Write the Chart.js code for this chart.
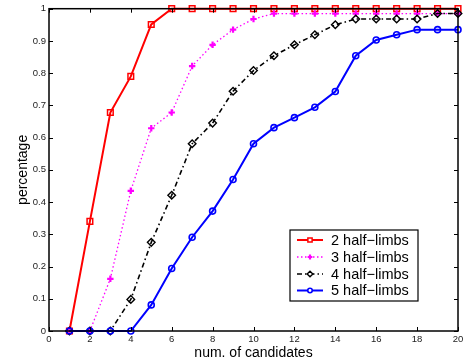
<!DOCTYPE html>
<html>
<head>
<meta charset="utf-8">
<script src="https://cdn.jsdelivr.net/npm/chart.js@4"></script>
<style>
  html, body { margin: 0; padding: 0; background: #fff; }
  #wrap { width: 472px; height: 364px; }
</style>
</head>
<body>
<div id="wrap"><canvas id="canvas" width="472" height="364"></canvas></div>
<script>
// number of candidates on the x axis
var candidates = [1,2,3,4,5,6,7,8,9,10,11,12,13,14,15,16,17,18,19,20];

var seriesNames = ['2 half\u2212limbs', '3 half\u2212limbs', '4 half\u2212limbs', '5 half\u2212limbs'];

var limbs2 = [0, 0.34, 0.678, 0.79, 0.951, 1, 1, 1, 1, 1, 1, 1, 1, 1, 1, 1, 1, 1, 1, 1];
var limbs3 = [0, 0, 0.162, 0.435, 0.629, 0.678, 0.822, 0.888, 0.935, 0.968, 0.985, 0.985, 0.985, 0.985, 0.985, 0.985, 0.985, 0.985, 0.985, 0.985];
var limbs4 = [0, 0, 0, 0.098, 0.275, 0.421, 0.581, 0.645, 0.744, 0.808, 0.854, 0.888, 0.919, 0.950, 0.968, 0.968, 0.968, 0.968, 0.985, 0.985];
var limbs5 = [0, 0, 0, 0, 0.081, 0.194, 0.291, 0.372, 0.470, 0.581, 0.631, 0.662, 0.694, 0.743, 0.854, 0.903, 0.919, 0.935, 0.935, 0.935];

var xTicks = [0,2,4,6,8,10,12,14,16,18,20];
var yTicks = [0,0.1,0.2,0.3,0.4,0.5,0.6,0.7,0.8,0.9,1];

function pts(vals) {
    return vals.map(function(v, i){ return {x: candidates[i], y: v}; });
}

var FONT = "'Liberation Sans', Arial, sans-serif";
var NONE = 'rgba(0,0,0,0)';

// matlab style box with inward ticks on all four sides
var boxPlugin = {
    id: 'box',
    afterDraw: function(chart) {
        var ctx = chart.ctx, a = chart.chartArea;
        var xs = chart.scales.x, ys = chart.scales.y;
        var t = 4;
        ctx.save();
        ctx.strokeStyle = '#000';
        ctx.lineWidth = 1.5;
        ctx.strokeRect(a.left, a.top, a.right - a.left, a.bottom - a.top);
        ctx.lineWidth = 1;
        ctx.beginPath();
        xTicks.forEach(function(v){
            var px = Math.round(xs.getPixelForValue(v)) + 0.5;
            ctx.moveTo(px, a.bottom); ctx.lineTo(px, a.bottom - t);
            ctx.moveTo(px, a.top); ctx.lineTo(px, a.top + t);
        });
        yTicks.forEach(function(v){
            var py = Math.round(ys.getPixelForValue(v)) + 0.5;
            ctx.moveTo(a.left, py); ctx.lineTo(a.left + t, py);
            ctx.moveTo(a.right, py); ctx.lineTo(a.right - t, py);
        });
        ctx.stroke();

        // legend inside the plot
        var lx = 290, ly = 230, lw = 128, lh = 71;
        ctx.fillStyle = '#fff';
        ctx.fillRect(lx, ly, lw, lh);
        ctx.lineWidth = 1.2;
        ctx.strokeStyle = '#000';
        ctx.strokeRect(lx, ly, lw, lh);
        var rows = [240, 257, 274, 290.5];
        ctx.font = '14.5px ' + FONT;
        ctx.textBaseline = 'middle';
        chart.data.datasets.forEach(function(ds, i){
            var y = rows[i];
            ctx.save();
            ctx.strokeStyle = ds.borderColor;
            ctx.fillStyle = '#fff';
            ctx.lineWidth = ds.borderWidth;
            ctx.setLineDash(ds.borderDash || []);
            ctx.beginPath();
            ctx.moveTo(297, y); ctx.lineTo(323, y);
            ctx.stroke();
            ctx.setLineDash([]);
            ctx.lineWidth = ds.pointBorderWidth;
            Chart.helpers.drawPoint(ctx, {
                pointStyle: ds.pointStyle,
                radius: ds.pointRadius * 0.75,
                rotation: 0,
                borderWidth: ds.pointBorderWidth
            }, 310, y);
            ctx.restore();
            ctx.fillStyle = '#000';
            ctx.fillText(ds.label, 331, y + 0.5);
        });
        ctx.restore();
    }
};

const ctx = document.getElementById('canvas').getContext('2d');
const myChart = new Chart(ctx, {
    type: 'line',
    data: {
        datasets: [{
            label: seriesNames[0],
            data: pts(limbs2),
            borderColor: '#ff0000',
            backgroundColor: NONE,
            pointBackgroundColor: NONE,
            borderWidth: 2,
            pointStyle: 'rect',
            pointRadius: 4,
            pointBorderWidth: 1.5,
            order: 3
        },{
            label: seriesNames[1],
            data: pts(limbs3),
            borderColor: '#ff00ff',
            backgroundColor: NONE,
            pointBackgroundColor: NONE,
            borderWidth: 1.3,
            borderDash: [1.5, 2.5],
            pointStyle: 'cross',
            pointRadius: 3.2,
            pointBorderWidth: 2.2,
            order: 2
        },{
            label: seriesNames[2],
            data: pts(limbs4),
            borderColor: '#000000',
            backgroundColor: NONE,
            pointBackgroundColor: NONE,
            borderWidth: 1.6,
            borderDash: [5, 3, 1.5, 3],
            pointStyle: 'rectRot',
            pointRadius: 3.8,
            pointBorderWidth: 1.4,
            order: 1
        },{
            label: seriesNames[3],
            data: pts(limbs5),
            borderColor: '#0000ff',
            backgroundColor: NONE,
            pointBackgroundColor: NONE,
            borderWidth: 2,
            pointStyle: 'circle',
            pointRadius: 3,
            pointBorderWidth: 1.6,
            order: 0
        }]
    },
    options: {
        responsive: false,
        animation: false,
        clip: false,
        elements: { line: { tension: 0 } },
        layout: { padding: { top: 8, right: 14, left: 0, bottom: 0 } },
        plugins: { legend: { display: false }, tooltip: { enabled: false } },
        scales: {
            x: {
                type: 'linear',
                min: 0, max: 20,
                afterFit: function(s){ s.height = 33; },
                afterBuildTicks: function(s){ s.ticks = xTicks.map(function(v){ return {value: v}; }); },
                grid: { display: false, drawTicks: false, tickLength: 0 },
                border: { display: false },
                ticks: { padding: 3, maxRotation: 0, autoSkip: false, color: '#222', font: { family: FONT, size: 9.5 } },
                title: { display: true, text: 'num. of candidates', color: '#000', font: { family: FONT, size: 14 }, padding: { top: 0, bottom: 2 } }
            },
            y: {
                type: 'linear',
                min: 0, max: 1,
                afterFit: function(s){ s.width = 49; },
                afterBuildTicks: function(s){ s.ticks = yTicks.map(function(v){ return {value: v}; }); },
                grid: { display: false, drawTicks: false, tickLength: 0 },
                border: { display: false },
                ticks: {
                    padding: 3, color: '#222', font: { family: FONT, size: 9.5 },
                    callback: function(v){ return String(+v.toFixed(1)); }
                },
                title: { display: true, text: 'percentage', color: '#000', font: { family: FONT, size: 14 }, padding: { top: 15, bottom: 0 } }
            }
        }
    },
    plugins: [boxPlugin]
});
</script>
</body>
</html>
